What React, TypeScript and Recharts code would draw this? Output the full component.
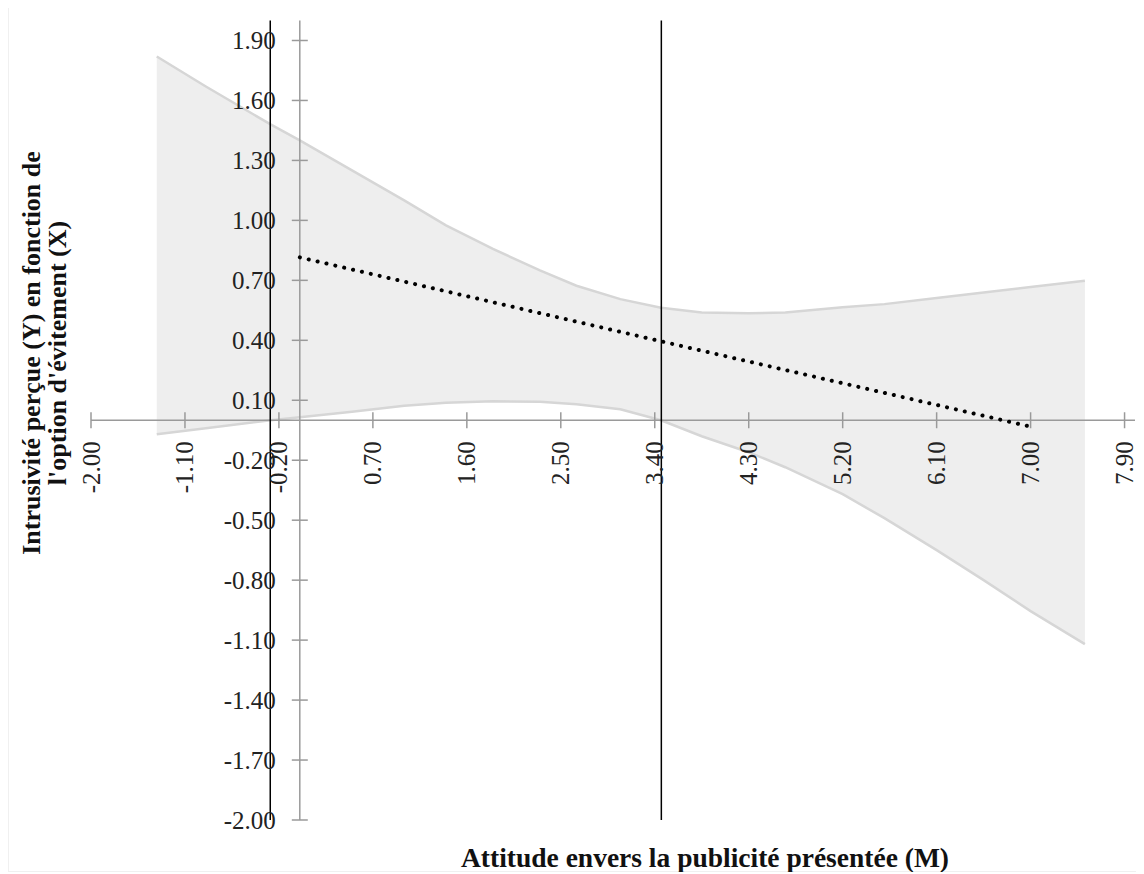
import React from 'react';
import { ComposedChart, Area, Line, XAxis, YAxis, ReferenceLine, ReferenceDot } from 'recharts';

// moderator values along the x axis, with the confidence band around the conditional effect
const xs = [-1.37, -0.9, -0.28, 0, 0.5, 1.0, 1.4, 1.85, 2.3, 2.65, 3.07, 3.46, 3.85, 4.3, 4.65, 5.2, 5.6, 6.1, 6.55, 7.0, 7.52];
const upper = [1.82, 1.67, 1.48, 1.4, 1.25, 1.1, 0.975, 0.857, 0.75, 0.673, 0.606, 0.563, 0.539, 0.535, 0.539, 0.565, 0.581, 0.612, 0.639, 0.667, 0.698];
const lower = [-0.07, -0.04, 0.0, 0.015, 0.042, 0.072, 0.088, 0.095, 0.092, 0.08, 0.055, 0.0, -0.08, -0.16, -0.235, -0.37, -0.49, -0.65, -0.8, -0.955, -1.12];

// conditional effect (dotted line)
const fitX = [0, 3.46, 7.0];
const fitY = [0.815, 0.395, -0.032];

// Johnson-Neyman points
const jnPoints = [-0.283, 3.463];

const xTicks = [-2.0, -1.1, -0.2, 0.7, 1.6, 2.5, 3.4, 4.3, 5.2, 6.1, 7.0, 7.9];
const yTicks = [-2.0, -1.7, -1.4, -1.1, -0.8, -0.5, -0.2, 0.1, 0.4, 0.7, 1.0, 1.3, 1.6, 1.9];

const data = xs.map((x, i) => {
  const k = fitX.indexOf(x);
  return { x, band: [lower[i], upper[i]], fit: k >= 0 ? fitY[k] : null };
});

const FONT = '"Liberation Serif", "Times New Roman", serif';
const AXIS = '#9a9a9a';

const XTick = (label: string) => (p: any) => (
  <g>
    <line x1={p.cx} x2={p.cx} y1={p.cy - 8} y2={p.cy + 8} stroke={AXIS} strokeWidth={1.5} />
    <text
      x={p.cx}
      y={p.cy + 21}
      transform={`rotate(-90 ${p.cx} ${p.cy + 21})`}
      textAnchor="end"
      dominantBaseline="central"
      fontFamily={FONT}
      fontSize={25}
      fill="#222"
    >
      {label}
    </text>
  </g>
);

const YTick = (label: string) => (p: any) => (
  <g>
    <line x1={p.cx - 8} x2={p.cx + 8} y1={p.cy} y2={p.cy} stroke={AXIS} strokeWidth={1.5} />
    <text x={p.cx - 24} y={p.cy} textAnchor="end" dominantBaseline="central" fontFamily={FONT} fontSize={25} fill="#222">
      {label}
    </text>
  </g>
);

export default function App() {
  return (
    <div style={{ position: 'relative', width: 1134, height: 864, border: '1px solid #f0f0f0', marginTop: -2 }}>
      <ComposedChart width={1134} height={862} data={data} margin={{ top: 13.5, right: 8, bottom: 49, left: 82 }}>
        <XAxis dataKey="x" type="number" domain={[-2, 8]} hide />
        <YAxis type="number" domain={[-2, 2]} hide />
        <Area
          dataKey="band"
          type="linear"
          fill="#eeeeee"
          fillOpacity={1}
          stroke="#d6d6d6"
          strokeWidth={2.5}
          isAnimationActive={false}
        />
        <ReferenceLine x={0} stroke={AXIS} strokeWidth={1.5} />
        <ReferenceLine y={0} stroke={AXIS} strokeWidth={1.5} />
        {xTicks.map(t => (
          <ReferenceDot key={'x' + t} x={t} y={0} ifOverflow="visible" shape={XTick(t.toFixed(2))} />
        ))}
        {yTicks.map(t => (
          <ReferenceDot key={'y' + t} x={0} y={t} ifOverflow="visible" shape={YTick(t.toFixed(2))} />
        ))}
        {jnPoints.map(j => (
          <ReferenceLine key={'jn' + j} x={j} stroke="#000" strokeWidth={1.5} />
        ))}
        <Line
          dataKey="fit"
          type="linear"
          stroke="#000"
          strokeWidth={4}
          strokeDasharray="0.1 9"
          strokeLinecap="round"
          dot={false}
          connectNulls
          isAnimationActive={false}
        />
      </ComposedChart>
      <div
        style={{
          position: 'absolute',
          left: -264,
          top: 320,
          width: 600,
          height: 52,
          lineHeight: '26px',
          textAlign: 'center',
          transform: 'rotate(-90deg)',
          fontFamily: FONT,
          fontWeight: 'bold',
          fontSize: 26,
          color: '#111',
        }}
      >
        Intrusivité perçue (Y) en fonction de
        <br />
        l'option d'évitement (X)
      </div>
      <div
        style={{
          position: 'absolute',
          left: 296,
          top: 836,
          width: 800,
          lineHeight: '30px',
          textAlign: 'center',
          fontFamily: FONT,
          fontWeight: 'bold',
          fontSize: 27.5,
          color: '#111',
        }}
      >
        Attitude envers la publicité présentée (M)
      </div>
    </div>
  );
}
